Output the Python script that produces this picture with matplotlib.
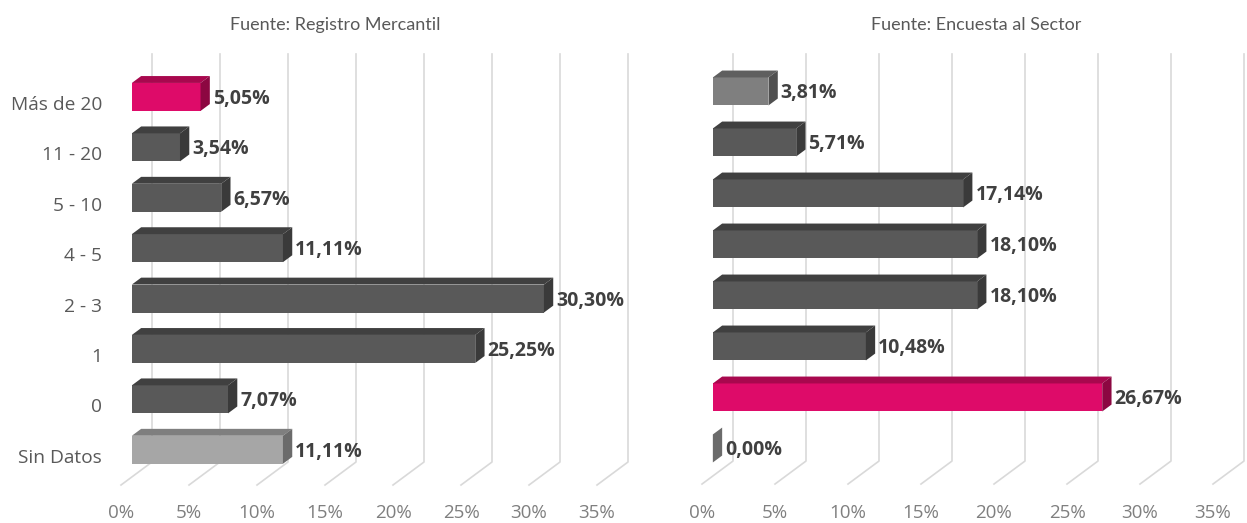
import numpy as np
import matplotlib.pyplot as plt
from matplotlib.patches import Polygon

categorias = ["Más de 20", "11 - 20", "5 - 10", "4 - 5", "2 - 3", "1", "0", "Sin Datos"]
registro = [5.05, 3.54, 6.57, 11.11, 30.30, 25.25, 7.07, 11.11]
encuesta = [3.81, 5.71, 17.14, 18.10, 18.10, 10.48, 26.67, 0.00]
ticks = [0, 5, 10, 15, 20, 25, 30, 35]

# (front, top, side) shades for the 3D bars
GRIS = ("#595959", "#404040", "#3a3a3a")
GRIS_MEDIO = ("#7f7f7f", "#5f5f5f", "#505050")
GRIS_CLARO = ("#a6a6a6", "#7f7f7f", "#6b6b6b")
MAGENTA = ("#de0b69", "#a8084e", "#8c0741")

colores_registro = [MAGENTA, GRIS, GRIS, GRIS, GRIS, GRIS, GRIS, GRIS_CLARO]
colores_encuesta = [GRIS_MEDIO, GRIS, GRIS, GRIS, GRIS, GRIS, MAGENTA, GRIS_CLARO]

W, H = 1247, 523
fig = plt.figure(figsize=(W / 100, H / 100), dpi=100)


def fmt(v):
    return "{:.2f}%".format(v).replace(".", ",")


def panel(x0, sx, y0, sy, valores, colores, titulo, tcx, mostrar_cats):
    # pixel mapping: x = x0 + sx*v, y = y0 - sy*i (front of floor)
    xlim = (-2, 38)
    ylim = (-1.3, 8.8)
    left = x0 + sx * xlim[0]
    right = x0 + sx * xlim[1]
    top = y0 - sy * ylim[1]
    bottom = y0 - sy * ylim[0]
    ax = fig.add_axes([left / W, 1 - bottom / H, (right - left) / W, (bottom - top) / H])
    ax.set_xlim(*xlim)
    ax.set_ylim(*ylim)
    ax.axis("off")

    ddx, ddy = 31 / sx, 23 / sy  # full depth of the 3D box
    piso = -0.54
    techo = (y0 - 54) / sy

    for t in ticks:
        ax.plot([t, t + ddx, t + ddx], [piso, piso + ddy, techo], color="#d9d9d9", lw=1.2, zorder=1)
        ax.text(t, -1.1, "{}%".format(t), ha="center", va="center", fontsize=13.5,
                color="#7f7f7f", family="Open Sans")

    n = len(valores)
    pos = np.arange(n)[::-1]
    alto = 28 / sy
    fx, fy = 0.35 * ddx, 0.35 * ddy
    px, py = 0.3 * ddx, 0.3 * ddy
    yc = pos + fy
    ax.barh(yc, valores, left=fx, height=alto, color=[c[0] for c in colores], zorder=3)
    for y, v, c in zip(yc, valores, colores):
        yt, yb = y + alto / 2, y - alto / 2
        xe = fx + v
        ax.add_patch(Polygon([(fx, yt), (xe, yt), (xe + px, yt + py), (fx + px, yt + py)],
                             closed=True, color=c[1], lw=0, zorder=3))
        ax.add_patch(Polygon([(xe, yb), (xe, yt), (xe + px, yt + py), (xe + px, yb + py)],
                             closed=True, color=c[2], lw=0, zorder=3))
        ax.text(xe + px + 3 / sx, y - 2 / sy, fmt(v), ha="left", va="center", fontsize=14,
                fontweight="bold", color="#404040", family="Open Sans", zorder=4)

    if mostrar_cats:
        for i, cat in zip(pos, categorias):
            ax.text(-19 / sx, i, cat, ha="right", va="center", fontsize=13.8,
                    color="#595959", family="Open Sans")

    fig.text(tcx / W, 1 - 25 / H, titulo, ha="center", va="center", fontsize=13,
             color="#595959", family="Lato")


panel(121, 13.6, 457.8, 50.4, registro, colores_registro, "Fuente: Registro Mercantil", 335, True)
panel(702, 14.6, 456.5, 51.0, encuesta, colores_encuesta, "Fuente: Encuesta al Sector", 976, False)

fig.savefig("out.png", dpi=100, facecolor="white")
